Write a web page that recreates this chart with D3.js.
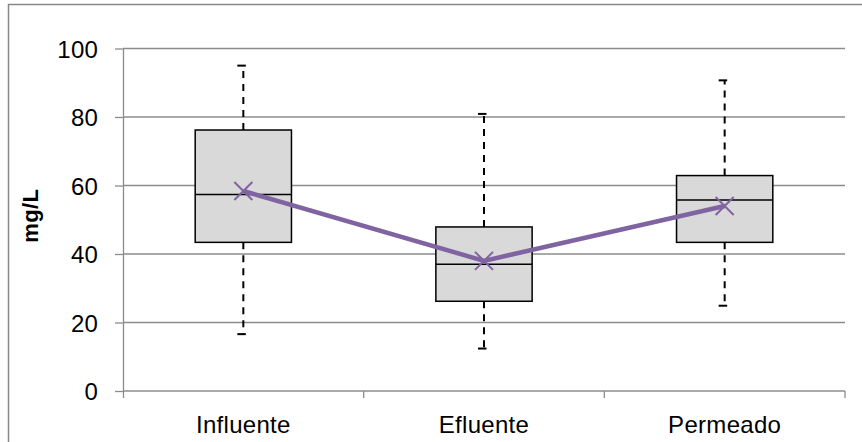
<!DOCTYPE html>
<html>
<head>
<meta charset="utf-8">
<script src="https://cdn.jsdelivr.net/npm/d3@7"></script>
<style>
  html, body { margin: 0; padding: 0; background: #fff; }
  svg { display: block; }
  text { font-family: "Liberation Sans", Arial, sans-serif; fill: #000; }
</style>
</head>
<body>
<svg id="chart" width="862" height="442"></svg>
<script>
// Box-plot statistics per sampling point (mg/L)
const categories = ["Influente", "Efluente", "Permeado"];
const minValues    = [16.6, 12.4, 24.9];
const q1Values     = [43.4, 26.2, 43.4];
const medianValues = [57.4, 37.0, 55.8];
const q3Values     = [76.2, 47.9, 62.9];
const maxValues    = [95.0, 80.9, 90.7];
const meanValues   = [58.4, 38.0, 54.0];
const yTicks = [0, 20, 40, 60, 80, 100];
const yLabel = "mg/L";

const svg = d3.select("#chart");
const W = 862, H = 442;
const plot = { left: 123, right: 845, top: 48.5, bottom: 391 };

const x = d3.scaleBand().domain(categories).range([plot.left, plot.right]).padding(0);
const y = d3.scaleLinear().domain([0, 100]).range([plot.bottom, plot.top]);

const gridColor = "#8c8c8c";
const purple = "#8064a2";
const fontFamily = "Liberation Sans, Arial, sans-serif";

// outer chart frame
svg.append("rect")
  .attr("x", 8.5).attr("y", 4.5)
  .attr("width", W - 8.5 + 2).attr("height", H - 4.5 + 2)
  .attr("fill", "none").attr("stroke", "#878787").attr("stroke-width", 1.5);

// horizontal gridlines
svg.append("g").selectAll("line").data(yTicks.filter(t => t > 0)).join("line")
  .attr("x1", plot.left).attr("x2", plot.right)
  .attr("y1", d => y(d)).attr("y2", d => y(d))
  .attr("stroke", gridColor).attr("stroke-width", 1.3);

// y axis
const yAxis = svg.append("g")
  .attr("transform", `translate(${plot.left},0)`)
  .call(d3.axisLeft(y).tickValues(yTicks).tickSize(8).tickPadding(17).tickFormat(d3.format("d")));
yAxis.select(".domain").attr("stroke", gridColor).attr("stroke-width", 1.3)
  .attr("d", `M0.5,${plot.top}V${plot.bottom + 7}`);
yAxis.selectAll(".tick line").attr("stroke", gridColor).attr("stroke-width", 1.3);
yAxis.selectAll(".tick text")
  .attr("font-size", 24).attr("letter-spacing", 0.2)
  .attr("font-family", fontFamily).attr("fill", "#000")
  .attr("dy", "0.36em");

// x axis baseline with ticks at category boundaries
const xg = svg.append("g");
xg.append("line")
  .attr("x1", plot.left).attr("x2", plot.right)
  .attr("y1", y(0)).attr("y2", y(0))
  .attr("stroke", gridColor).attr("stroke-width", 1.3);
const boundaries = categories.map(c => x(c)).concat([x(categories[categories.length - 1]) + x.bandwidth()]);
xg.selectAll("line.tk").data(boundaries.slice(1)).join("line").attr("class", "tk")
  .attr("x1", d => d).attr("x2", d => d)
  .attr("y1", y(0)).attr("y2", y(0) + 7)
  .attr("stroke", gridColor).attr("stroke-width", 1.3);
xg.selectAll("text").data(categories).join("text")
  .attr("x", d => x(d) + x.bandwidth() / 2)
  .attr("y", 433)
  .attr("text-anchor", "middle")
  .attr("font-size", 24).attr("letter-spacing", 0.3)
  .text(d => d);

// y axis title
svg.append("text")
  .attr("transform", `translate(38,${(plot.top + plot.bottom) / 2 - 4}) rotate(-90)`)
  .attr("text-anchor", "middle")
  .attr("font-size", 22).attr("font-weight", "bold").attr("letter-spacing", 0.4)
  .text(yLabel);

// box plots
const boxW = x.bandwidth() * 0.4;
const data = categories.map((c, i) => ({
  c, min: minValues[i], q1: q1Values[i], med: medianValues[i],
  q3: q3Values[i], max: maxValues[i], mean: meanValues[i]
}));
const cx = d => x(d.c) + x.bandwidth() / 2;

const boxes = svg.append("g").selectAll("g").data(data).join("g");

// whiskers (dashed)
boxes.append("line")
  .attr("x1", cx).attr("x2", cx)
  .attr("y1", d => y(d.q3)).attr("y2", d => y(d.max))
  .attr("stroke", "#000").attr("stroke-width", 2).attr("stroke-dasharray", "7,6");
boxes.append("line")
  .attr("x1", cx).attr("x2", cx)
  .attr("y1", d => y(d.q1)).attr("y2", d => y(d.min))
  .attr("stroke", "#000").attr("stroke-width", 2).attr("stroke-dasharray", "7,6");
// whisker caps
["max", "min"].forEach(k => {
  boxes.append("line")
    .attr("x1", d => cx(d) - 6).attr("x2", d => cx(d) + 2.5)
    .attr("y1", d => y(d[k])).attr("y2", d => y(d[k]))
    .attr("stroke", "#000").attr("stroke-width", 2);
});

// interquartile box
boxes.append("rect")
  .attr("x", d => cx(d) - boxW / 2).attr("width", boxW)
  .attr("y", d => y(d.q3)).attr("height", d => y(d.q1) - y(d.q3))
  .attr("fill", "#d9d9d9").attr("stroke", "#000").attr("stroke-width", 1.5);
// median
boxes.append("line")
  .attr("x1", d => cx(d) - boxW / 2).attr("x2", d => cx(d) + boxW / 2)
  .attr("y1", d => y(d.med)).attr("y2", d => y(d.med))
  .attr("stroke", "#000").attr("stroke-width", 1.5);

// mean line
svg.append("path")
  .datum(data)
  .attr("fill", "none").attr("stroke", purple).attr("stroke-width", 4.5)
  .attr("d", d3.line().x(cx).y(d => y(d.mean)));

// mean markers (x)
const s = 9;
svg.append("g").selectAll("path").data(data).join("path")
  .attr("d", d => `M${cx(d) - s},${y(d.mean) - s}L${cx(d) + s},${y(d.mean) + s}M${cx(d) - s},${y(d.mean) + s}L${cx(d) + s},${y(d.mean) - s}`)
  .attr("stroke", purple).attr("stroke-width", 2).attr("fill", "none");
</script>
</body>
</html>
